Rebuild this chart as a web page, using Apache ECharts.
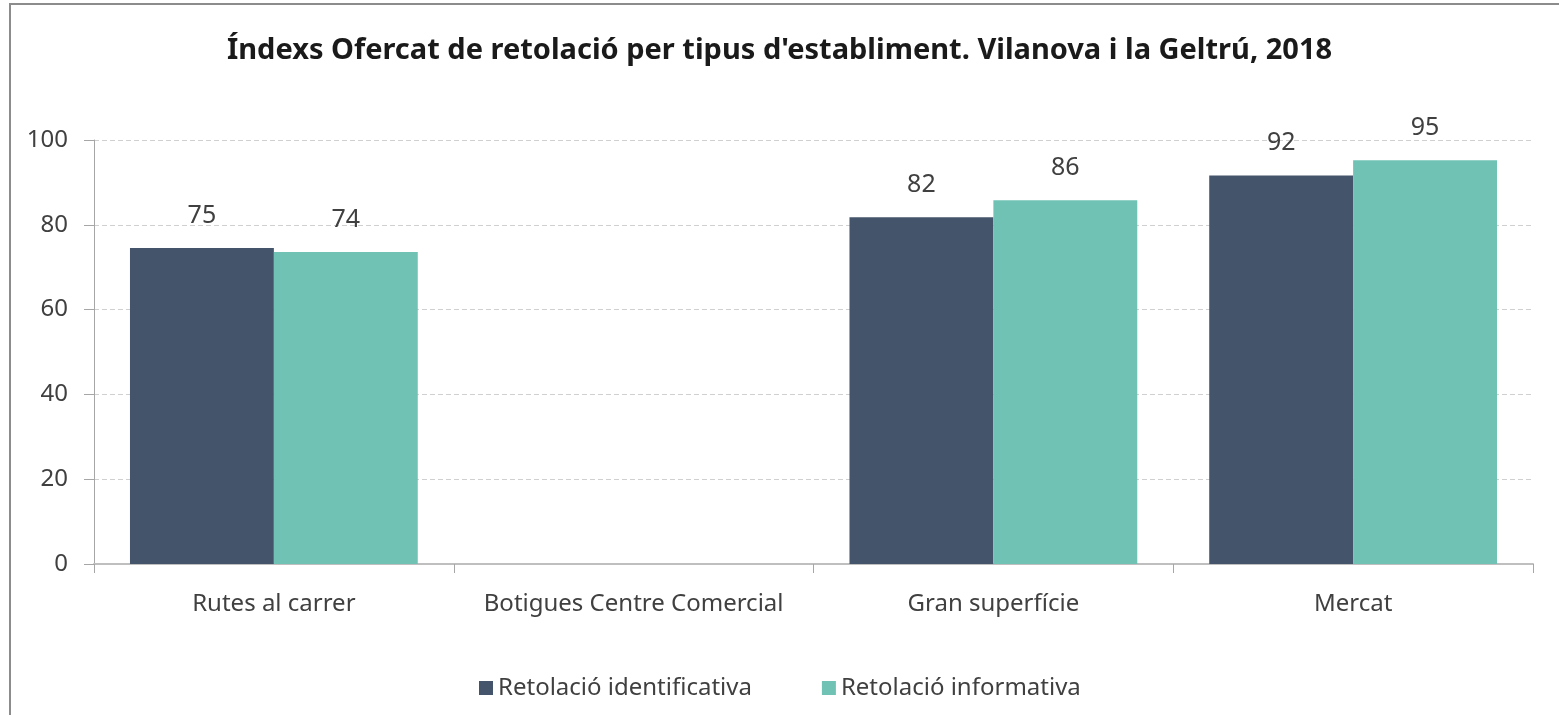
<!DOCTYPE html>
<html>
<head>
<meta charset="utf-8">
<script src="https://cdn.jsdelivr.net/npm/echarts@6/dist/echarts.min.js"></script>
<style>
  html, body { margin: 0; padding: 0; background: #fff; }
  #chart { width: 1559px; height: 715px; }
</style>
</head>
<body>
<div id="chart"></div>
<script>
const categories = ['Rutes al carrer', 'Botigues Centre Comercial', 'Gran superfície', 'Mercat'];
const identificativa = [74.5, null, 81.8, 91.6];
const informativa = [73.6, null, 85.8, 95.2];
const labelIdent = ['75', '', '82', '92'];
const labelInfo = ['74', '', '86', '95'];
const yTicks = [0, 20, 40, 60, 80, 100];

const chart = echarts.init(document.getElementById('chart'));
const font = 'Noto Sans';

const option = {
  animation: false,
  textStyle: { fontFamily: font },
  title: {
    text: "Índexs Ofercat de retolació per tipus d'establiment. Vilanova i la Geltrú, 2018",
    left: 'center',
    top: 31,
    textStyle: { fontFamily: font, fontSize: 29, fontWeight: 'bold', color: '#1a1a1a' }
  },
  graphic: [{
    type: 'rect',
    shape: { x: 10, y: 4, width: 1700, height: 900 },
    style: { fill: 'none', stroke: '#8c8c8c', lineWidth: 2 },
    silent: true
  }],
  legend: {
    bottom: 10,
    left: 474,
    itemWidth: 14,
    itemHeight: 14,
    itemGap: 70,
    icon: 'rect',
    textStyle: { fontFamily: font, fontSize: 24, color: '#404040' },
    data: ['Retolació identificativa', 'Retolació informativa']
  },
  grid: { left: 94, right: 26, top: 140, bottom: 151 },
  xAxis: {
    type: 'category',
    data: categories,
    axisLine: { lineStyle: { color: '#bfbfbf', width: 2 } },
    axisTick: { show: true, interval: 0, length: 9, lineStyle: { color: '#a6a6a6' } },
    axisLabel: { interval: 0, margin: 28, fontSize: 24, color: '#404040', fontFamily: font }
  },
  yAxis: {
    type: 'value',
    min: yTicks[0],
    max: yTicks[yTicks.length - 1],
    interval: 20,
    axisLine: { show: true, lineStyle: { color: '#a6a6a6' } },
    axisTick: { show: true, inside: false, length: 10, lineStyle: { color: '#a6a6a6' } },
    axisLabel: { margin: 26, fontSize: 24, color: '#404040', fontFamily: font },
    splitLine: { lineStyle: { color: '#d0d0d0', type: [5, 3] } }
  },
  series: [
    {
      name: 'Retolació identificativa',
      type: 'bar',
      data: identificativa,
      barGap: '0%',
      barCategoryGap: '20%',
      itemStyle: { color: '#44546a' },
      label: {
        show: true,
        position: 'top',
        distance: 20,
        fontSize: 25,
        color: '#404040',
        formatter: p => labelIdent[p.dataIndex]
      }
    },
    {
      name: 'Retolació informativa',
      type: 'bar',
      data: informativa,
      itemStyle: { color: '#70c2b4' },
      label: {
        show: true,
        position: 'top',
        distance: 20,
        fontSize: 25,
        color: '#404040',
        formatter: p => labelInfo[p.dataIndex]
      }
    }
  ]
};

chart.setOption(option);
</script>
</body>
</html>
